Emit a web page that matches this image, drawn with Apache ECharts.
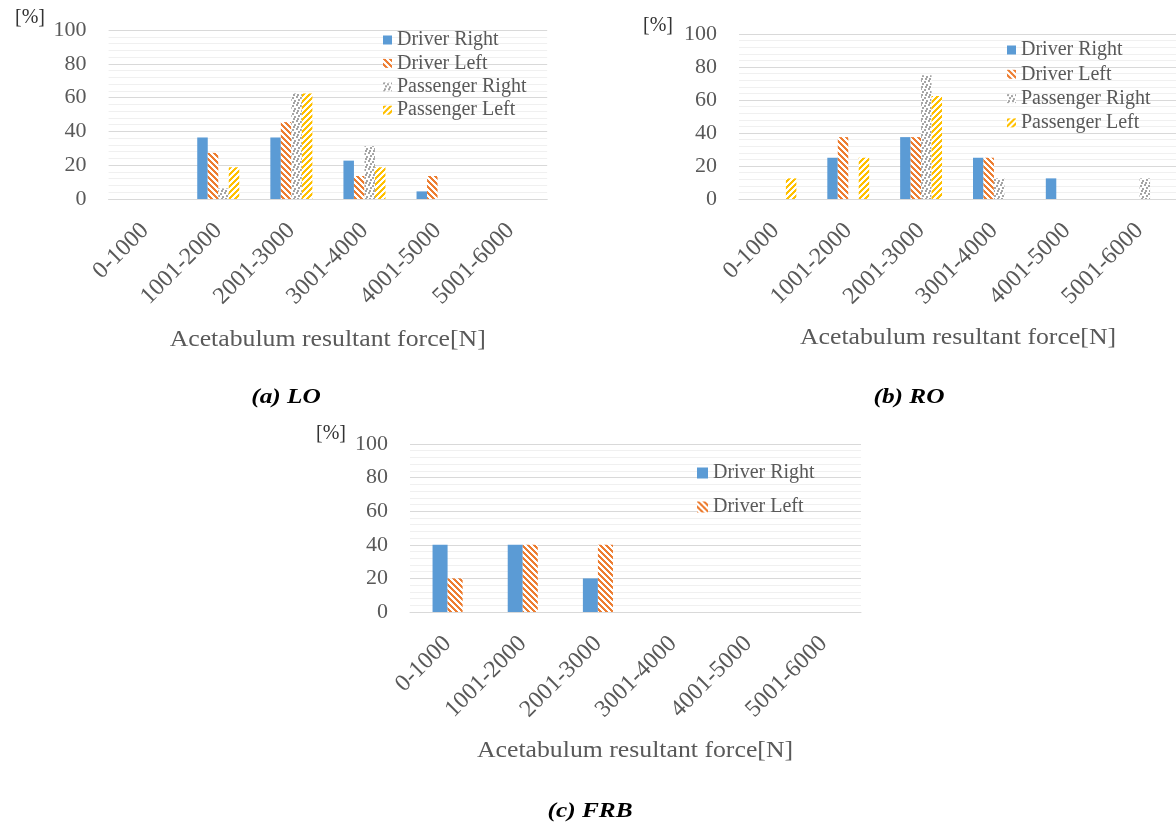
<!DOCTYPE html>
<html><head><meta charset="utf-8">
<script src="https://cdn.jsdelivr.net/npm/echarts@6/dist/echarts.min.js"></script>
<style>html,body{margin:0;padding:0;background:#fff}#c{width:1176px;height:824px}</style>
</head><body><div id="c"></div>
<script>
// ---------- data ----------
const categories = ['0-1000', '1001-2000', '2001-3000', '3001-4000', '4001-5000', '5001-6000'];
const seriesNames = ['Driver Right', 'Driver Left', 'Passenger Right', 'Passenger Left'];
const yTicks = [0, 20, 40, 60, 80, 100];
// (a) LO
const loDriverRight = [0, 36.4, 36.4, 22.7, 4.5, 0];
const loDriverLeft = [0, 27.3, 45.5, 13.6, 13.6, 0];
const loPassengerRight = [0, 6.25, 62.5, 31.25, 0, 0];
const loPassengerLeft = [0, 18.75, 62.5, 18.75, 0, 0];
// (b) RO
const roDriverRight = [0, 25, 37.5, 25, 12.5, 0];
const roDriverLeft = [0, 37.5, 37.5, 25, 0, 0];
const roPassengerRight = [0, 0, 75, 12.5, 0, 12.5];
const roPassengerLeft = [12.5, 25, 62.5, 0, 0, 0];
// (c) FRB
const frbDriverRight = [40, 40, 20, 0, 0, 0];
const frbDriverLeft = [20, 40, 40, 0, 0, 0];
const panelCaptions = ['(a) LO', '(b) RO', '(c) FRB'];
const xAxisTitle = 'Acetabulum resultant force[N]';
const yAxisUnit = '[%]';

// ---------- styles ----------
const FONT = '"Liberation Serif", "Times New Roman", serif';
const TXT = '#595959';
function makePattern(color, kind) {
  const P = kind === 'dots' ? 8 : 6;
  const cv = document.createElement('canvas');
  cv.width = P; cv.height = P;
  const ctx = cv.getContext('2d');
  ctx.fillStyle = '#ffffff'; ctx.fillRect(0, 0, P, P);
  ctx.fillStyle = color;
  if (kind === 'dots') {
    const blocks = [[0,0],[4,1],[2,3],[6,4],[1,6],[5,6]];
    blocks.forEach(([bx, by]) => {
      for (let dy = 0; dy < 2; dy++) for (let dx = 0; dx < 2; dx++)
        ctx.fillRect((bx + dx) % P, (by + dy) % P, 1, 1);
    });
  } else {
    for (let y = 0; y < P; y++) for (let x = 0; x < P; x++) {
      const v = kind === 'down' ? ((x - y) % P + P) % P : (x + y) % P;
      if (v < 3) ctx.fillRect(x, y, 1, 1);
    }
  }
  return { image: cv, repeat: 'repeat' };
}
const seriesColors = {
  'Driver Right': '#5B9BD5',
  'Driver Left': makePattern('#ED7D31', 'down'),
  'Passenger Right': makePattern('#A5A5A5', 'dots'),
  'Passenger Left': makePattern('#FFC000', 'up')
};

const panels = [
  { grid: { left: 108.6, top: 30, width: 438.6, height: 169 }, gap: '42.5%',
    data: [loDriverRight, loDriverLeft, loPassengerRight, loPassengerLeft], names: seriesNames },
  { grid: { left: 739, top: 34, width: 438, height: 165 }, gap: '42.5%',
    data: [roDriverRight, roDriverLeft, roPassengerRight, roPassengerLeft], names: seriesNames },
  { grid: { left: 410, top: 444, width: 451, height: 168 }, gap: '60%',
    data: [frbDriverRight, frbDriverLeft], names: seriesNames.slice(0, 2) }
];

const legendText = { fontSize: 20, lineHeight: 20, color: TXT, fontFamily: FONT };
const option = {
  animation: false,
  backgroundColor: '#ffffff',
  grid: panels.map(p => p.grid),
  xAxis: panels.map((p, i) => ({
    type: 'category', gridIndex: i, data: categories,
    axisTick: { show: false },
    axisLine: { lineStyle: { color: '#D9D9D9', width: 1 } },
    axisLabel: { rotate: 45, interval: 0, hideOverlap: false, margin: 28,
      fontSize: 24, fontFamily: FONT, color: TXT }
  })),
  yAxis: panels.map((p, i) => ({
    type: 'value', gridIndex: i,
    min: yTicks[0], max: yTicks[yTicks.length - 1], interval: yTicks[1] - yTicks[0],
    axisLine: { show: false }, axisTick: { show: false },
    axisLabel: { fontSize: 22, fontFamily: FONT, color: TXT, margin: 22 },
    splitLine: { lineStyle: { color: '#D9D9D9', width: 1 } },
    minorTick: { show: false, splitNumber: 5 },
    minorSplitLine: { show: true, lineStyle: { color: '#F0F0F0', width: 1 } }
  })),
  legend: [
    { data: seriesNames, orient: 'vertical', left: 378, top: 25, itemWidth: 9, itemHeight: 9,
      itemGap: 3.4, icon: 'rect', selectedMode: false, textStyle: legendText },
    { data: seriesNames, orient: 'vertical', left: 1002, top: 35, itemWidth: 9, itemHeight: 9,
      itemGap: 4.3, icon: 'rect', selectedMode: false, textStyle: legendText },
    { data: seriesNames.slice(0, 2), orient: 'vertical', left: 692, top: 458, itemWidth: 11, itemHeight: 11,
      itemGap: 14, icon: 'rect', selectedMode: false, textStyle: legendText }
  ],
  series: [],
  graphic: []
};

panels.forEach((p, i) => {
  p.data.forEach((vals, k) => {
    option.series.push({
      type: 'bar', name: p.names[k], xAxisIndex: i, yAxisIndex: i, data: vals,
      barGap: '0%', barCategoryGap: p.gap,
      itemStyle: { color: seriesColors[p.names[k]] }
    });
  });
});

const textPos = {
  caption: [[286, 397], [909, 397], [590, 811]],
  axisName: [[327.7, 340], [958, 338], [635, 751]],
  unit: [[30, 17.5], [658, 26], [331, 433.5]]
};
panelCaptions.forEach((cap, i) => {
  option.graphic.push({ type: 'text', x: textPos.caption[i][0], y: textPos.caption[i][1], scaleX: 1.15,
    style: { text: cap, fontSize: 22, fontWeight: 'bold', fontStyle: 'italic', fontFamily: FONT,
      fill: '#000', align: 'center', verticalAlign: 'middle' } });
  option.graphic.push({ type: 'text', x: textPos.axisName[i][0], y: textPos.axisName[i][1], scaleX: 1.12,
    style: { text: xAxisTitle, fontSize: 23, fontFamily: FONT,
      fill: TXT, align: 'center', verticalAlign: 'middle' } });
  option.graphic.push({ type: 'text', x: textPos.unit[i][0], y: textPos.unit[i][1],
    style: { text: yAxisUnit, fontSize: 20, fontFamily: FONT,
      fill: '#333', align: 'center', verticalAlign: 'middle' } });
});

const chart = echarts.init(document.getElementById('c'), null, { renderer: 'canvas' });
chart.setOption(option);
</script>
</body></html>
